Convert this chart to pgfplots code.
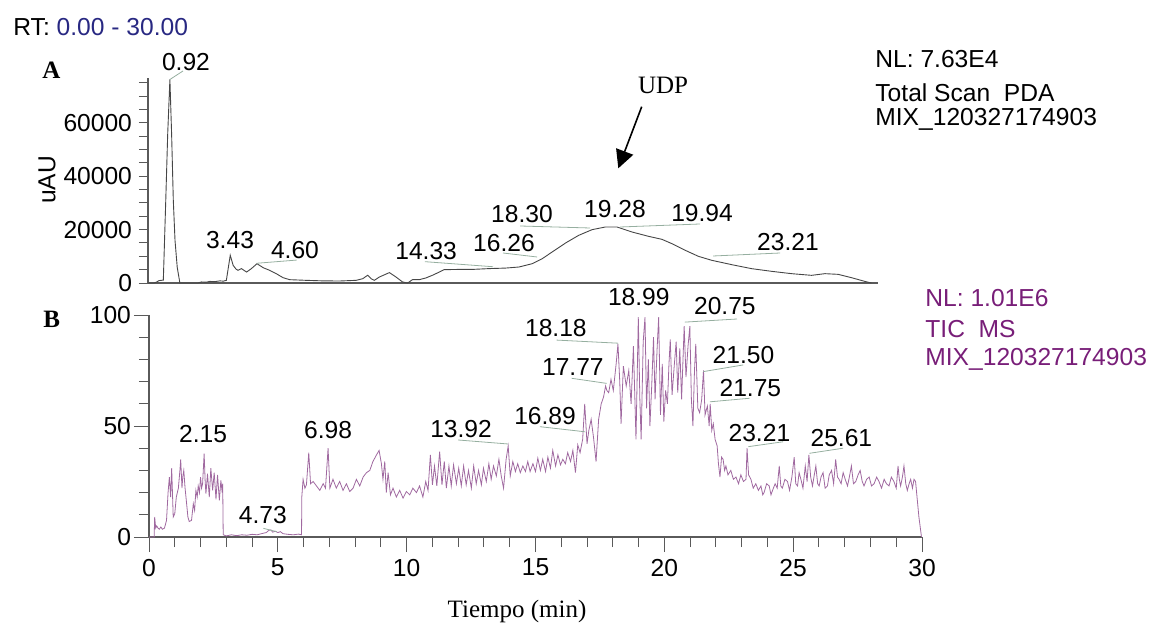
\documentclass[border=0pt]{standalone}
\usepackage{pgfplots}
\pgfplotsset{compat=1.18}
\usetikzlibrary{arrows.meta}
\usepackage{fontspec}
\setmainfont{Liberation Sans}
\newfontfamily\seriffont{Liberation Serif}
\definecolor{axisgray}{RGB}{90,90,90}
\definecolor{trace}{RGB}{160,105,160}
\definecolor{toptrace}{RGB}{70,70,70}
\definecolor{conn}{RGB}{150,175,160}
\definecolor{nlpurple}{RGB}{120,30,120}
\definecolor{rtblue}{RGB}{40,40,130}
\newcommand\lab{\fontsize{12.3}{14}\selectfont}
\newcommand\ser{\seriffont\fontsize{12.5}{14}\selectfont}
\pgfplotsset{chrom/.style={scale only axis, clip=false, anchor=south west,
  axis x line*=bottom, axis y line*=left,
  axis line style={-,draw=axisgray,line width=0.6pt},
  tick style={draw=axisgray,line width=0.5pt}, tick align=outside,
  major tick length=6.5pt, minor tick length=4.5pt,
  ticklabel style={font=\lab},
  scaled y ticks=false, scaled x ticks=false}}
\begin{document}
\begin{tikzpicture}
\path[use as bounding box] (0,0) rectangle (581pt,311.5pt);
% ---------------- Panel A ----------------
\begin{axis}[chrom, at={(74pt,170pt)}, width=365pt, height=102.7pt,
  xmin=0, xmax=30, ymin=0, ymax=77000, xtick=\empty,
  ytick={0,20000,40000,60000}, yticklabels={0,20000,40000,60000},
  minor ytick={0,5000,...,75000}, major tick length=4.5pt]
\addplot[toptrace, line width=0.45pt, mark=none] coordinates {
(0,0) (0.25,0) (0.36,400) (0.45,900) (0.55,1000) (0.63,1100) (0.73,31000) (0.81,56000) (0.90,76300) (0.97,56000) (1.04,31000) (1.11,16000) (1.20,6000) (1.31,0) (2.05,0) (2.2,400) (2.4,300) (2.54,600) (2.75,500) (2.95,800) (3.10,700) (3.22,1000) (3.38,10400) (3.50,6600) (3.62,5200) (3.70,4750) (3.84,5400) (4.05,4100) (4.25,5400) (4.48,7250) (4.73,5750) (5.00,4750) (5.27,3500) (5.55,2000) (5.82,1250) (6.50,1000) (7.20,800) (7.87,750) (8.55,1000) (8.82,1600) (9.03,2900) (9.17,1600) (9.30,1000) (9.51,2250) (9.92,3900) (10.19,2250) (10.46,400) (10.67,0) (10.87,1250) (11.15,1250) (11.42,1900) (11.69,2900) (11.97,4100) (12.17,5000) (12.79,5100) (13.33,5100) (14.02,5400) (14.70,5600) (15.25,6000) (15.79,7250) (16.20,9125) (16.61,11625) (17.16,15000) (17.70,17875) (18.25,20000) (18.80,21000) (19.27,21000) (19.89,19125) (20.57,17500) (21.12,16375) (21.53,14750) (22.08,12250) (22.62,10000) (23.17,8500) (23.99,6875) (24.81,5375) (25.63,4375) (26.45,3500) (27.27,2875) (27.82,3500) (28.36,3250) (28.91,2000) (29.45,625) (29.73,0)
};
\draw[conn, line width=0.4pt] (axis cs:0.90,76300) -- (axis cs:1.44,79500);
\draw[conn, line width=0.4pt] (axis cs:4.47,7400) -- (axis cs:6.11,8600);
\draw[conn, line width=0.4pt] (axis cs:11.38,8000) -- (axis cs:14.18,6100);
\draw[conn, line width=0.4pt] (axis cs:14.59,11250) -- (axis cs:15.99,9750);
\draw[conn, line width=0.4pt] (axis cs:15.29,21375) -- (axis cs:18.17,20625);
\draw[conn, line width=0.4pt] (axis cs:19.40,21000) -- (axis cs:22.69,22125);
\draw[conn, line width=0.4pt] (axis cs:23.22,10125) -- (axis cs:25.98,11250);
\node[font=\lab] at (axis cs:1.56,82875) {0.92};
\node[font=\lab] at (axis cs:3.37,16125) {3.43};
\node[font=\lab] at (axis cs:6.04,12375) {4.60};
\node[font=\lab] at (axis cs:11.43,12000) {14.33};
\node[font=\lab] at (axis cs:14.63,15000) {16.26};
\node[font=\lab] at (axis cs:15.37,25875) {18.30};
\node[font=\lab] at (axis cs:19.19,27750) {19.28};
\node[font=\lab] at (axis cs:22.77,26250) {19.94};
\node[font=\lab] at (axis cs:26.30,15375) {23.21};
\end{axis}
% ---------------- Panel B ----------------
\begin{axis}[chrom, at={(74.5pt,43pt)}, width=386.5pt, height=111pt,
  xmin=0, xmax=30, ymin=0, ymax=100,
  major tick length=7.5pt, minor tick length=5pt,
  yticklabel style={xshift=2pt},
  xtick={0,5,...,30}, xticklabels={0,5,10,15,20,25,30}, minor xtick={0,1,...,30},
  ytick={0,50,100}, yticklabels={0,50,100}, minor ytick={0,10,...,100}]
\addplot[trace, line width=0.4pt, mark=none] coordinates {
(0,0) (0.20,0) (0.22,9) (0.26,4) (0.30,5) (0.35,4) (0.40,3.5) (0.46,4.5) (0.52,3.5) (0.60,4) (0.68,7.5) (0.74,20) (0.79,27) (0.84,18) (0.88,31) (0.94,9) (1.00,10.5) (1.06,18) (1.14,22) (1.20,30) (1.23,35) (1.28,22) (1.31,27) (1.35,30) (1.40,22) (1.46,15) (1.51,9) (1.56,7) (1.65,7.5) (1.72,15) (1.77,12) (1.82,21) (1.87,18) (1.91,23) (1.96,20) (2.00,27) (2.04,22) (2.08,24) (2.14,37.5) (2.18,25) (2.21,19.5) (2.27,28.5) (2.34,18) (2.40,31) (2.47,21) (2.53,29) (2.60,17) (2.66,28) (2.73,16.5) (2.79,25.5) (2.84,20) (2.86,24) (2.88,1)
(3.0,0.5) (3.2,1) (3.4,0.6) (3.6,1) (3.8,0.8) (4.0,1.2) (4.2,1) (4.4,1.6) (4.55,2) (4.65,3) (4.73,3.2) (4.80,2.2) (4.9,2.6) (5.0,2.0) (5.1,2.4) (5.2,1.5) (5.4,1.2) (5.6,1) (5.8,1.3) (5.92,1) (5.93,18)
(5.98,26) (6.05,22) (6.11,23.5) (6.20,38) (6.27,24) (6.37,25) (6.50,23) (6.63,21) (6.76,24) (6.85,22) (6.95,40) (7.02,22) (7.14,26) (7.27,22) (7.40,25) (7.53,21) (7.66,24) (7.79,20.5) (7.92,22) (8.05,26) (8.18,23) (8.31,27) (8.44,29) (8.57,30) (8.69,34) (8.83,37) (8.93,39) (9.02,33) (9.08,26) (9.15,34) (9.21,20) (9.28,29) (9.37,19) (9.47,22) (9.60,18) (9.73,21) (9.86,17.5) (9.99,20.5) (10.12,19) (10.24,22) (10.38,20) (10.50,23) (10.63,18) (10.74,25) (10.83,21) (10.92,37) (11.00,23.5) (11.08,32) (11.17,23) (11.28,38.5) (11.37,23.5) (11.46,34) (11.54,22) (11.64,32) (11.73,23) (11.82,32.5) (11.93,24) (12.02,31) (12.12,23) (12.21,32) (12.31,23.5) (12.40,30) (12.51,22) (12.60,32) (12.70,24) (12.79,30) (12.90,23.5) (12.98,31) (13.09,25) (13.19,33) (13.28,26) (13.37,32) (13.48,27.5) (13.58,35) (13.67,27.5) (13.76,22) (13.86,35) (13.94,41) (14.02,27.5) (14.12,34) (14.22,29.5) (14.31,33) (14.41,29) (14.51,32) (14.61,29.5) (14.70,34) (14.79,29.5) (14.90,33) (15.00,29.5) (15.09,35.5) (15.19,30) (15.28,35) (15.39,29.5) (15.48,36) (15.58,31) (15.67,39) (15.78,32) (15.87,37) (15.97,32.5) (16.06,35) (16.16,33) (16.25,38) (16.36,34) (16.45,39) (16.55,29) (16.64,41.5) (16.73,38) (16.83,44) (16.91,60) (17.00,42) (17.07,48) (17.16,53) (17.25,45) (17.35,34) (17.45,53) (17.55,60) (17.64,63) (17.72,68) (17.77,66) (17.84,65) (17.93,71) (18.02,66) (18.13,78) (18.20,87) (18.27,70) (18.32,51) (18.41,77) (18.52,68) (18.62,75) (18.71,60) (18.80,86) (18.90,44) (18.99,99)
(19.05,62) (19.10,44) (19.18,88) (19.25,99) (19.31,58) (19.38,80) (19.44,50) (19.51,68) (19.58,90) (19.64,62) (19.72,85) (19.78,99) (19.85,55) (19.92,78) (19.98,52) (20.05,66) (20.12,60) (20.18,78) (20.23,89) (20.30,64) (20.39,78) (20.46,88) (20.52,65) (20.60,85) (20.67,62) (20.77,95) (20.84,72) (20.92,86) (20.99,95) (21.05,62) (21.11,50) (21.17,75) (21.22,87) (21.30,58) (21.37,56) (21.45,62) (21.52,75) (21.58,55) (21.67,59) (21.74,50) (21.78,60) (21.84,48) (21.90,51) (21.97,44) (22.05,41) (22.10,33) (22.16,27) (22.22,36) (22.28,35) (22.34,30) (22.39,32) (22.47,28) (22.58,30) (22.68,26) (22.78,27) (22.88,24) (22.97,28) (23.07,25) (23.17,26) (23.21,40) (23.27,28) (23.36,26) (23.45,22) (23.55,24) (23.65,21) (23.75,23) (23.82,19) (23.87,20) (23.97,24) (24.07,23) (24.14,19) (24.20,21) (24.30,24) (24.38,22) (24.46,32) (24.52,23) (24.58,22) (24.68,26) (24.78,25) (24.86,21) (24.95,27) (25.04,36) (25.10,24) (25.17,23) (25.23,29) (25.30,26) (25.38,22) (25.47,32) (25.54,25) (25.61,37) (25.68,27) (25.75,23) (25.82,28) (25.88,32) (25.95,24) (26.01,23) (26.08,27) (26.16,29) (26.24,22) (26.33,23) (26.40,28) (26.49,30) (26.57,24) (26.65,35) (26.72,27) (26.78,26) (26.86,24) (26.94,29) (27.02,26) (27.11,23) (27.18,27) (27.26,32) (27.34,24) (27.43,25) (27.52,28) (27.60,30) (27.68,25) (27.75,23) (27.85,26) (27.95,27) (28.04,23) (28.14,24) (28.24,27) (28.33,25) (28.43,22) (28.53,26) (28.62,24) (28.72,23) (28.81,27) (28.91,25) (29.00,22) (29.07,32) (29.12,26) (29.17,23) (29.24,27) (29.30,32) (29.37,24) (29.43,21) (29.50,24) (29.56,26) (29.63,22) (29.69,26) (29.75,25) (29.88,9) (29.98,0)
};
\draw[conn, line width=0.4pt] (axis cs:4.44,3.9) -- (axis cs:4.96,2.4);
\draw[conn, line width=0.4pt] (axis cs:12.00,43.7) -- (axis cs:13.94,41.9);
\draw[conn, line width=0.4pt] (axis cs:15.17,49.7) -- (axis cs:16.92,47.4);
\draw[conn, line width=0.4pt] (axis cs:16.40,71.5) -- (axis cs:17.76,69.2);
\draw[conn, line width=0.4pt] (axis cs:15.82,88.7) -- (axis cs:18.21,87.3);
\draw[conn, line width=0.4pt] (axis cs:20.80,96.8) -- (axis cs:22.82,98.2);
\draw[conn, line width=0.4pt] (axis cs:21.51,74.5) -- (axis cs:23.06,77.5);
\draw[conn, line width=0.4pt] (axis cs:21.77,60.9) -- (axis cs:23.31,62.5);
\draw[conn, line width=0.4pt] (axis cs:23.26,40.7) -- (axis cs:24.61,42.9);
\draw[conn, line width=0.4pt] (axis cs:25.63,37.7) -- (axis cs:26.94,40.0);
\node[font=\lab] at (axis cs:2.10,46.4) {2.15};
\node[font=\lab] at (axis cs:4.42,9.9) {4.73};
\node[font=\lab] at (axis cs:6.95,48.2) {6.98};
\node[font=\lab] at (axis cs:12.11,48.6) {13.92};
\node[font=\lab] at (axis cs:15.37,54.5) {16.89};
\node[font=\lab] at (axis cs:16.45,76.6) {17.77};
\node[font=\lab] at (axis cs:15.79,94.1) {18.18};
\node[font=\lab] at (axis cs:19.01,108.1) {18.99};
\node[font=\lab] at (axis cs:22.35,104.1) {20.75};
\node[font=\lab] at (axis cs:23.07,82.0) {21.50};
\node[font=\lab] at (axis cs:23.34,67.1) {21.75};
\node[font=\lab] at (axis cs:23.69,46.8) {23.21};
\node[font=\lab] at (axis cs:26.87,44.6) {25.61};
\end{axis}
% ---------------- free text (pixel coordinates) ----------------
\begin{scope}[x=0.5pt, y=-0.5pt, shift={(0pt,311.5pt)}]
\node[anchor=base west, inner sep=0pt, font=\lab] at (13,35) {RT: \textcolor{rtblue}{0.00 - 30.00}};
\node[anchor=base west, inner sep=0pt, font=\ser\bfseries] at (42,78) {A};
\node[anchor=base west, inner sep=0pt, font=\ser\bfseries] at (43,327) {B};
\node[rotate=90, font=\lab] at (47,180) {uAU};
\node[anchor=base west, inner sep=0pt, font=\lab] at (875,68) {NL: 7.63E4};
\node[anchor=base west, inner sep=0pt, font=\lab] at (875,101) {Total Scan\ \ PDA};
\node[anchor=base west, inner sep=0pt, font=\lab] at (875,125) {MIX\_120327174903};
\node[anchor=base west, inner sep=0pt, font=\lab, text=nlpurple] at (925,306) {NL: 1.01E6};
\node[anchor=base west, inner sep=0pt, font=\lab, text=nlpurple] at (925,337) {TIC\ \ MS};
\node[anchor=base west, inner sep=0pt, font=\lab, text=nlpurple] at (925,365) {MIX\_120327174903};
\node[anchor=base, inner sep=0pt, font=\ser] at (663,93) {UDP};
\draw[line width=0.8pt, -{Triangle[length=9pt,width=9pt]}] (641.7,106.7) -- (618.3,168.3);
\node[anchor=base, inner sep=0pt, font=\ser] at (517,617) {Tiempo (min)};
\end{scope}
\end{tikzpicture}
\end{document}
